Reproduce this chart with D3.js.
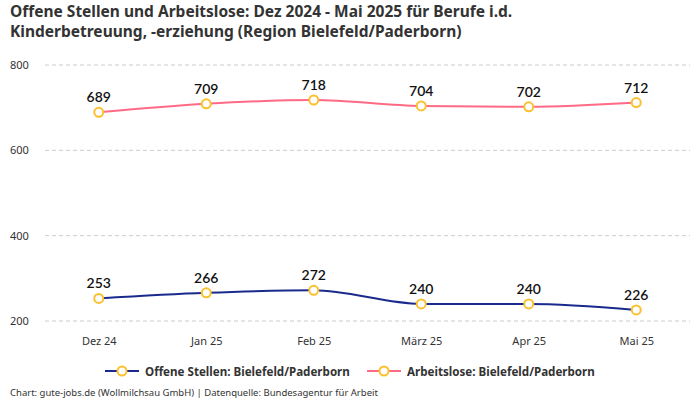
<!DOCTYPE html>
<html>
<head>
<meta charset="utf-8">
<script src="https://cdn.jsdelivr.net/npm/d3@7"></script>
<style>
  body { margin: 0; background: #fff; }
  svg { display: block; font-family: "Noto Sans", sans-serif; }
</style>
</head>
<body>
<div id="chart"></div>
<script>
// Daten
var monate = ["Dez 24", "Jan 25", "Feb 25", "März 25", "Apr 25", "Mai 25"];
var offeneStellen = [253, 266, 272, 240, 240, 226];
var arbeitslose = [689, 709, 718, 704, 702, 712];
var yTicks = [200, 400, 600, 800];

var width = 700, height = 400;
var margin = {top: 65, right: 10, bottom: 79, left: 45};

var svg = d3.select("#chart").append("svg")
  .attr("width", width)
  .attr("height", height);

var x = d3.scalePoint()
  .domain(monate)
  .range([margin.left, width - margin.right])
  .padding(0.5);

var y = d3.scaleLinear()
  .domain([200, 800])
  .range([height - margin.bottom, margin.top]);

// Titel
svg.append("text")
  .attr("x", 10).attr("y", 17)
  .attr("font-size", 15.5).attr("font-weight", "bold").attr("fill", "#333")
  .text("Offene Stellen und Arbeitslose: Dez 2024 - Mai 2025 für Berufe i.d.");
svg.append("text")
  .attr("x", 10).attr("y", 37)
  .attr("font-size", 15.5).attr("font-weight", "bold").attr("fill", "#333")
  .text("Kinderbetreuung, -erziehung (Region Bielefeld/Paderborn)");

// Gitternetz und y-Achse
svg.append("g")
  .selectAll("line")
  .data(yTicks)
  .enter().append("line")
  .attr("x1", margin.left).attr("x2", width - margin.right)
  .attr("y1", function(d) { return y(d); })
  .attr("y2", function(d) { return y(d); })
  .attr("stroke", "#ccc")
  .attr("stroke-dasharray", "4,3");

svg.append("g")
  .selectAll("text")
  .data(yTicks)
  .enter().append("text")
  .attr("x", 10)
  .attr("y", function(d) { return y(d) + 4; })
  .attr("font-size", 11).attr("fill", "#333")
  .text(function(d) { return d; });

// x-Achse
svg.append("g")
  .attr("transform", "translate(0," + (height - margin.bottom) + ")")
  .call(d3.axisBottom(x).tickSize(0).tickPadding(16))
  .call(function(g) { g.select(".domain").remove(); })
  .selectAll("text")
  .attr("font-size", 11)
  .attr("font-family", "Noto Sans, sans-serif")
  .attr("fill", "#333");

var serien = [
  {name: "Offene Stellen: Bielefeld/Paderborn", werte: offeneStellen, farbe: "#1a2a8c"},
  {name: "Arbeitslose: Bielefeld/Paderborn", werte: arbeitslose, farbe: "#ff6b85"}
];

var linie = d3.line()
  .x(function(d, i) { return x(monate[i]); })
  .y(function(d) { return y(d); })
  .curve(d3.curveMonotoneX);

serien.forEach(function(s) {
  svg.append("path")
    .datum(s.werte)
    .attr("d", linie)
    .attr("fill", "none")
    .attr("stroke", s.farbe)
    .attr("stroke-width", 2);

  svg.append("g")
    .selectAll("circle")
    .data(s.werte)
    .enter().append("circle")
    .attr("cx", function(d, i) { return x(monate[i]); })
    .attr("cy", function(d) { return y(d); })
    .attr("r", 4.5)
    .attr("fill", "#fff")
    .attr("stroke", "#fbc02d")
    .attr("stroke-width", 2);

  svg.append("g")
    .selectAll("text")
    .data(s.werte)
    .enter().append("text")
    .attr("x", function(d, i) { return x(monate[i]); })
    .attr("y", function(d) { return y(d) - 10; })
    .attr("text-anchor", "middle")
    .attr("font-size", 14)
    .attr("font-family", "Lato, sans-serif")
    .attr("font-weight", "600")
    .attr("fill", "#111")
    .text(function(d) { return d; });
});

// Legende
var legendeX = [105, 367];
serien.forEach(function(s, i) {
  var g = svg.append("g").attr("transform", "translate(" + legendeX[i] + ",371)");
  g.append("line").attr("x1", 0).attr("x2", 34).attr("stroke", s.farbe).attr("stroke-width", 2);
  g.append("circle").attr("cx", 17).attr("r", 4.5)
    .attr("fill", "#fff").attr("stroke", "#fbc02d").attr("stroke-width", 2);
  g.append("text").attr("x", 40).attr("y", 4.5)
    .attr("font-size", 11.6).attr("font-weight", "bold").attr("fill", "#333")
    .text(s.name);
});

// Quelle
svg.append("text")
  .attr("x", 10).attr("y", 396)
  .attr("font-size", 9.5).attr("fill", "#333")
  .text("Chart: gute-jobs.de (Wollmilchsau GmbH) | Datenquelle: Bundesagentur für Arbeit");
</script>
</body>
</html>
